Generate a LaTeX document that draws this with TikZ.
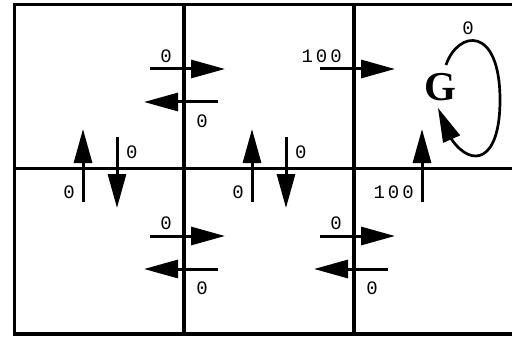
\documentclass[tikz,border=0pt]{standalone}
\usepackage{fontspec}
\usetikzlibrary{arrows.meta}
\newfontfamily\rewardfont{Liberation Mono}[LetterSpace=16]
\newfontfamily\goalfont{Liberation Serif}

\begin{document}
\begin{tikzpicture}[
  x=1pt,y=-1pt,
  wall/.style={line width=3.2pt, line cap=rect},
  move/.style={-{Triangle[length=34pt,width=18pt]}, line width=3pt},
  reward/.style={font=\rewardfont\fontsize{19}{19}\selectfont, inner sep=0pt},
  goallabel/.style={font=\goalfont\bfseries\fontsize{41}{41}\selectfont,
                    inner sep=0pt},
]
  \path[use as bounding box] (0,0) rectangle (512,337);

  % the six cells, the right edge runs off the page
  \draw[wall] (513,4.5) -- (14.5,4.5) -- (14.5,334) -- (513,334);
  \draw[wall] (14.5,168.5) -- (513,168.5);
  \draw[wall] (184,4.5) -- (184,334);
  \draw[wall] (354,4.5) -- (354,334);

  % moves to the right, reward above the tail
  \foreach \bx/\y/\r [count=\i] in {184/69/0,354/69/100,184/236/0,354/236/0} {
    \draw[move] (\bx-34,\y) -- (\bx+41,\y);
    \node[reward,anchor=south east] (east\i) at (\bx-12,\y-6) {\r};
  }
  % moves to the left, reward below the tail
  \foreach \bx/\y [count=\i] in {184/102,184/269,354/269} {
    \draw[move] (\bx+34,\y) -- (\bx-40,\y);
    \node[reward] (west\i) at (\bx+18,\y+19) {0};
  }
  % moves up across the middle wall
  \foreach \x/\r [count=\i] in {83/0,252/0,422/100} {
    \draw[move] (\x,202) -- (\x,129);
    \node[reward,anchor=east] (north\i) at (\x-8,192) {\r};
  }
  % moves down across the middle wall
  \foreach \x [count=\i] in {117,286} {
    \draw[move] (\x,137) -- (\x,208);
    \node[reward,anchor=west] (south\i) at (\x+9,152) {0};
  }

  % absorbing goal state
  \node[goallabel] (goal) at (440,87) {G};
  \draw[move, line width=2.7pt] (446,65) .. controls (458,30) and (500,25) ..
    (500,100) .. controls (500,162) and (472,168) .. (452,140) -- (438,108);
  \node[reward] (stay) at (468,28) {0};
\end{tikzpicture}
\end{document}
